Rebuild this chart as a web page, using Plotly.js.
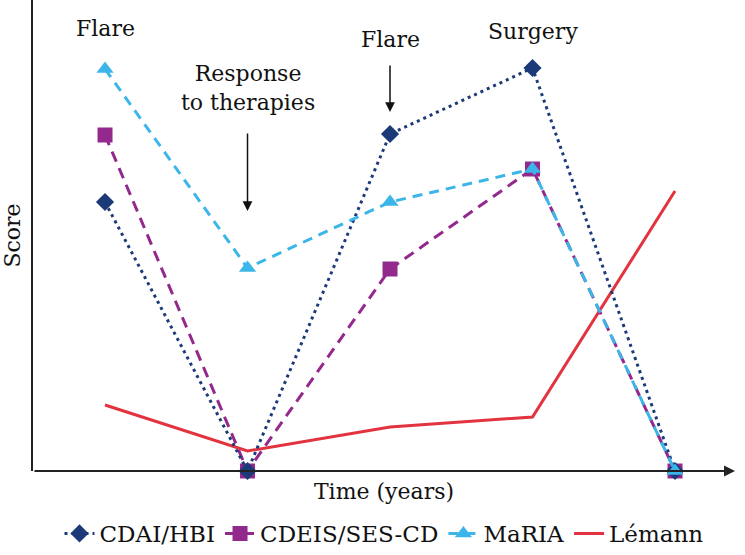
<!DOCTYPE html>
<html>
<head>
<meta charset="utf-8">
<script src="https://cdn.plot.ly/plotly-3.0.1.min.js"></script>
<style>
  body { margin: 0; }
  #chart { width: 745px; height: 555px; }
</style>
</head>
<body>
<div id="chart"></div>
<script>
// time points and scores (arbitrary units)
var timePoints = [1, 2, 3, 4, 5];
var cdaiHbi = [26.9, 0, 33.7, 40.3, 0];
var cdeisSesCd = [33.6, 0, 20.2, 30.2, 0];
var maria = [40.2, 20.3, 26.9, 30.2, 0];
var lemann = [6.6, 2.0, 4.4, 5.4, 28.0];

var serif = 'DejaVu Serif';

// drawing order: Lémann under, MaRIA on top
var data = [
  {
    x: timePoints, y: lemann, name: 'Lémann', mode: 'lines',
    line: {color: '#e2333f', width: 3},
    legendrank: 4, cliponaxis: false
  },
  {
    x: timePoints, y: cdeisSesCd, name: 'CDEIS/SES-CD', mode: 'lines+markers',
    line: {color: '#93298d', width: 3, dash: '11px,7px'},
    marker: {symbol: 'square', size: 15, color: '#93298d'},
    legendrank: 2, cliponaxis: false
  },
  {
    x: timePoints, y: cdaiHbi, name: 'CDAI/HBI', mode: 'lines+markers',
    line: {color: '#1d3a78', width: 3, dash: '3px,4px'},
    marker: {symbol: 'diamond', size: 14, color: '#1d3a78'},
    legendrank: 1, cliponaxis: false
  },
  {
    x: timePoints, y: maria, name: 'MaRIA', mode: 'lines+markers',
    line: {color: '#3cb5e8', width: 3, dash: '10px,7px'},
    marker: {symbol: 'triangle-up', size: 15, color: '#3cb5e8'},
    legendrank: 3, cliponaxis: false
  }
];

var layout = {
  width: 745,
  height: 555,
  margin: {l: 33, r: 10, t: 0, b: 84},
  paper_bgcolor: 'white',
  plot_bgcolor: 'white',
  font: {family: serif, size: 22, color: '#111'},
  showlegend: true,
  legend: {
    orientation: 'h', x: 0.5, xanchor: 'center',
    yref: 'container', y: 0, yanchor: 'bottom',
    font: {family: serif, size: 23, color: '#111'},
    itemwidth: 30, tracegroupgap: 0
  },
  xaxis: {
    range: [0.4947, 5.421],
    showgrid: false, zeroline: false, showticklabels: false, ticks: '',
    showline: false,
    title: {text: 'Time (years)', font: {family: serif, size: 22}, standoff: 12}
  },
  yaxis: {
    range: [0, 47.1],
    showgrid: false, zeroline: false, showticklabels: false, ticks: '',
    showline: true, linecolor: '#222', linewidth: 2,
    title: {text: 'Score', font: {family: serif, size: 22}, standoff: 6}
  },
  annotations: [
    // x-axis with arrowhead
    {x: 5.421, y: 0, ax: 0.4947, ay: 0, xref: 'x', yref: 'y', axref: 'x', ayref: 'y',
     showarrow: true, arrowhead: 2, arrowsize: 1, arrowwidth: 2.2, arrowcolor: '#222', text: ''},
    {x: 1, y: 44.3, xref: 'x', yref: 'y', text: 'Flare', showarrow: false},
    {x: 2, y: 38.3, xref: 'x', yref: 'y', text: 'Response<br>to therapies', showarrow: false},
    {x: 3, y: 43.2, xref: 'x', yref: 'y', text: 'Flare', showarrow: false},
    {x: 4, y: 44.0, xref: 'x', yref: 'y', text: 'Surgery', showarrow: false},
    {x: 2, y: 26.0, ax: 2, ay: 33.9, xref: 'x', yref: 'y', axref: 'x', ayref: 'y',
     text: '', showarrow: true, arrowhead: 2, arrowsize: 1.3, arrowwidth: 1.5, arrowcolor: '#111'},
    {x: 3, y: 35.9, ax: 3, ay: 40.7, xref: 'x', yref: 'y', axref: 'x', ayref: 'y',
     text: '', showarrow: true, arrowhead: 2, arrowsize: 1.3, arrowwidth: 1.5, arrowcolor: '#111'}
  ]
};

Plotly.newPlot('chart', data, layout, {displayModeBar: false, staticPlot: true});
</script>
</body>
</html>
